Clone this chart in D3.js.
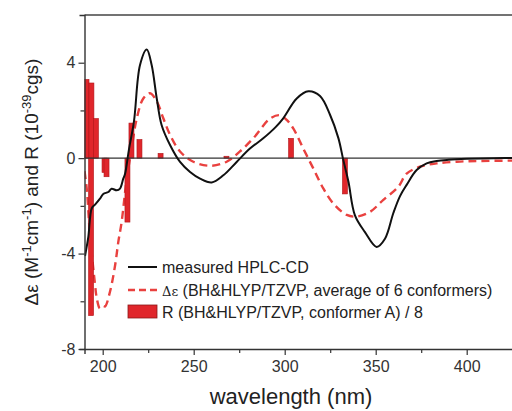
<!DOCTYPE html>
<html>
<head>
<meta charset="utf-8">
<script src="https://cdn.jsdelivr.net/npm/d3@7"></script>
<style>
  body { margin: 0; background: #fff; }
  svg { display: block; font-family: "Liberation Sans", Arial, sans-serif; }
</style>
</head>
<body>
<div id="chart"></div>
<script>
// measured HPLC-CD (wavelength nm, delta eps)
const measWl = [190.3, 192.1, 194.0, 195.8, 198.5, 200.3, 203.1, 204.9, 207.7, 209.5, 211.3, 212.3, 214.5, 217.2, 220.5, 224.2, 226.9, 229.7, 232.4, 237, 242.5, 248, 253.5, 259.9, 266.3, 273.6, 280.9, 288.2, 295, 299.2, 306.6, 313, 319.4, 324.9, 329.5, 332.2, 335, 338.6, 344.1, 350.5, 355.1, 359.7, 363.3, 367, 372.5, 378, 383.5, 390, 400, 415, 430];
const measDe = [-4.1, -3.3, -2.1, -1.95, -1.7, -1.5, -1.42, -1.28, -1.35, -1.28, -0.86, -0.65, 0.4, 1.55, 3.9, 4.55, 3.9, 2.5, 1.38, 0.55, -0.16, -0.58, -0.86, -1.02, -0.72, -0.16, 0.4, 0.83, 1.3, 1.67, 2.5, 2.8, 2.6, 1.82, 0.84, -0.08, -0.98, -2.4, -3.1, -3.72, -3.38, -2.3, -1.6, -1.12, -0.5, -0.22, -0.12, -0.07, -0.03, 0, 0];

// calculated average of 6 conformers
const calcWl = [190, 191.2, 193.0, 195.8, 196.7, 198.5, 200.3, 201.3, 204.0, 206.8, 208.6, 210.4, 212.3, 213.2, 215.9, 218.7, 222.3, 226.0, 229.7, 233.3, 237.0, 242.5, 249.8, 258.9, 268.1, 275.4, 282.7, 292, 297.4, 301.1, 304.7, 310.2, 315.7, 321.2, 326.7, 334.1, 339.6, 346.9, 354.2, 362.4, 367, 374.3, 383.5, 394.5, 407.3, 430];
const calcDe = [-0.55, -1.25, -3.2, -5.3, -5.85, -6.3, -6.2, -6.22, -5.6, -4.5, -3.5, -2.68, -1.42, -0.86, 0.4, 1.66, 2.5, 2.72, 2.38, 1.67, 0.98, 0.28, -0.15, -0.32, -0.15, 0.28, 0.83, 1.66, 1.8, 1.6, 1.25, 0.4, -0.43, -1.27, -1.9, -2.38, -2.45, -2.25, -1.75, -1.2, -0.65, -0.36, -0.22, -0.15, -0.12, -0.1];

// rotatory strengths of conformer A, divided by 8
const barWl = [191.1, 193.8, 193.6, 196.3, 201.0, 202.1, 213.6, 215.8, 220.2, 231.8, 268.0, 303.5, 333.1];
const barR = [3.3, 3.15, -6.6, 1.66, -0.6, -0.78, -2.68, 1.47, 0.78, 0.2, 0.08, 0.83, -1.5];

const xTicks = [200, 250, 300, 350, 400];
const yTicks = [-8, -4, 0, 4];

const W = 512, H = 411;
const x = d3.scaleLinear().domain([190, 430]).range([84.5, 84.5 + 240 * 1.82]);
const y = d3.scaleLinear().domain([-8, 6]).range([349, 15]);

const svg = d3.select("#chart").append("svg")
  .attr("width", W)
  .attr("height", H);

svg.append("defs").append("clipPath").attr("id", "clip")
  .append("rect")
  .attr("x", x(190)).attr("y", y(6))
  .attr("width", W - x(190)).attr("height", y(-8) - y(6));

const plot = svg.append("g").attr("clip-path", "url(#clip)");

// dashed calc curve
const line = d3.line().x(d => x(d[0])).y(d => y(d[1])).curve(d3.curveCatmullRom);
plot.append("path")
  .datum(d3.zip(calcWl, calcDe))
  .attr("d", line)
  .attr("fill", "none")
  .attr("stroke", "#e9413f")
  .attr("stroke-width", 2.4)
  .attr("stroke-dasharray", "8 5");

// bars
plot.selectAll(".bar")
  .data(d3.zip(barWl, barR))
  .enter().append("rect")
  .attr("class", "bar")
  .attr("x", d => x(d[0]) - 2.5)
  .attr("width", 5)
  .attr("y", d => Math.min(y(0), y(d[1])))
  .attr("height", d => Math.abs(y(d[1]) - y(0)))
  .attr("fill", "#e0262b")
  .attr("stroke", "#b0161a")
  .attr("stroke-width", 0.6);

// zero line
plot.append("line")
  .attr("x1", x(190)).attr("x2", W)
  .attr("y1", y(0)).attr("y2", y(0))
  .attr("stroke", "#333").attr("stroke-width", 1.4);

// measured curve
plot.append("path")
  .datum(d3.zip(measWl, measDe))
  .attr("d", line)
  .attr("fill", "none")
  .attr("stroke", "#111")
  .attr("stroke-width", 2);

// frame top
svg.append("line")
  .attr("x1", x(190)).attr("x2", W)
  .attr("y1", y(6)).attr("y2", y(6))
  .attr("stroke", "#444").attr("stroke-width", 1.4);

// axes
const xAxis = d3.axisBottom(x).tickValues(d3.range(200, 430, 25)).tickSize(5)
  .tickFormat(d => xTicks.includes(d) ? d : "");
const gx = svg.append("g")
  .attr("transform", "translate(0," + y(-8) + ")")
  .call(xAxis);
gx.select(".domain").attr("stroke", "#333").attr("stroke-width", 1.4);
gx.selectAll(".tick line").attr("stroke", "#333").attr("stroke-width", 1.2)
  .attr("y2", d => xTicks.includes(d) ? 6 : 4);
gx.selectAll("text").attr("font-size", 16).attr("fill", "#333")
  .attr("font-family", "Liberation Sans, Arial, sans-serif").attr("y", 10).attr("dy", "0.8em");

const yAxis = d3.axisLeft(y).tickValues(d3.range(-8, 6, 2)).tickSize(5)
  .tickFormat(d => yTicks.includes(d) ? d : "");
const gy = svg.append("g")
  .attr("transform", "translate(" + x(190) + ",0)")
  .call(yAxis);
gy.select(".domain").attr("stroke", "#333").attr("stroke-width", 1.4);
gy.selectAll(".tick line").attr("stroke", "#333").attr("stroke-width", 1.2)
  .attr("x2", d => yTicks.includes(d) ? -6 : -4);
gy.selectAll("text").attr("font-size", 16).attr("fill", "#333")
  .attr("font-family", "Liberation Sans, Arial, sans-serif").attr("x", -9);

// axis titles
svg.append("text")
  .attr("x", 291).attr("y", 404)
  .attr("text-anchor", "middle")
  .attr("font-size", 22).attr("fill", "#222")
  .text("wavelength (nm)");

const yl = svg.append("text")
  .attr("transform", "translate(38," + 182 + ") rotate(-90)")
  .attr("text-anchor", "middle")
  .attr("font-size", 19).attr("fill", "#222");
yl.append("tspan").text("Δε (M");
yl.append("tspan").attr("dy", -7).attr("font-size", 13).text("-1");
yl.append("tspan").attr("dy", 7).text("cm");
yl.append("tspan").attr("dy", -7).attr("font-size", 13).text("-1");
yl.append("tspan").attr("dy", 7).text(") and R (10");
yl.append("tspan").attr("dy", -7).attr("font-size", 13).text("-39");
yl.append("tspan").attr("dy", 7).text("cgs)");

// legend
const lg = svg.append("g").attr("font-size", 16).attr("fill", "#222");
lg.append("line").attr("x1", 128).attr("x2", 157).attr("y1", 267).attr("y2", 267)
  .attr("stroke", "#111").attr("stroke-width", 2);
lg.append("text").attr("x", 162).attr("y", 272.5).text("measured HPLC-CD");
lg.append("line").attr("x1", 128).attr("x2", 157).attr("y1", 290).attr("y2", 290)
  .attr("stroke", "#e9413f").attr("stroke-width", 2.4).attr("stroke-dasharray", "7 4");
const t2 = lg.append("text").attr("x", 162).attr("y", 295.5);
t2.append("tspan").attr("font-family", "DejaVu Serif, serif").attr("font-size", 13).text("Δε");
t2.append("tspan").text(" (BH&HLYP/TZVP, average of 6 conformers)");
lg.append("rect").attr("x", 128).attr("y", 305).attr("width", 29).attr("height", 13)
  .attr("fill", "#e0262b").attr("stroke", "#8a1a1a").attr("stroke-width", 0.8);
lg.append("text").attr("x", 162).attr("y", 317.5).text("R (BH&HLYP/TZVP, conformer A) / 8");
</script>
</body>
</html>
